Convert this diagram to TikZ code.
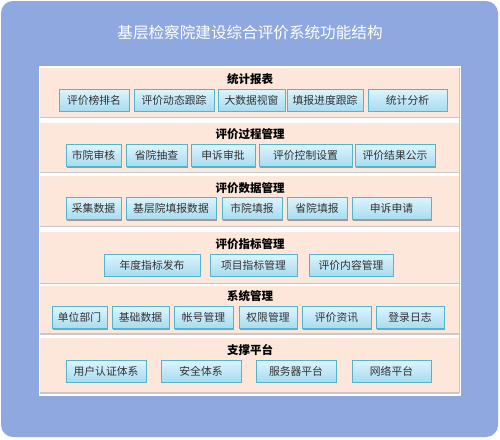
\documentclass[tikz,border=0pt]{standalone}
\usepackage{fontspec}
\setmainfont{Noto Sans CJK SC}
\usetikzlibrary{shadows}
\definecolor{outerblue}{RGB}{143,169,224}
\definecolor{peach}{RGB}{252,231,218}
\definecolor{btntop}{RGB}{222,244,252}
\definecolor{btnbot}{RGB}{166,220,240}
\definecolor{btnborder}{RGB}{84,180,204}
\definecolor{btntext}{RGB}{50,50,50}
\definecolor{sepgray}{RGB}{200,200,200}
\tikzset{
  btn/.style={draw=btnborder, line width=0.9pt, top color=btntop, bottom color=btnbot,
    minimum height=22pt, inner sep=0pt, text=btntext, font=\fontsize{10.8}{12}\selectfont,
    drop shadow={shadow xshift=1pt, shadow yshift=-1.2pt, fill=black, opacity=0.35}},
  sectitle/.style={font=\fontsize{11.5}{13}\selectfont\bfseries, text=black, inner sep=0pt},
  section/.style={fill=peach},
  sepline/.style={draw=sepgray, line width=1.2pt}
}
\newcommand{\sect}[3]{%
  \fill[peach] (40,#1) rectangle (459,#2);
  \draw[sepline] (40,#2) -- (459,#2);
  \draw[draw=sepgray, line width=0.8pt] (459,#1) -- (459,#2);
  \node[sectitle] (#3) at (250,#1+11.5) {};
}
\begin{document}
\begin{tikzpicture}[x=1pt,y=-1pt]
\useasboundingbox (0,0) rectangle (500,439);
\fill[outerblue, rounded corners=12pt] (1,1) rectangle (498,437);
\node[text=white, font=\fontsize{15.6}{18}\selectfont, inner sep=0pt] (title) at (250,33) {基层检察院建设综合评价系统功能结构};
\fill[white] (39,66) rectangle (461,396);
% sections
\fill[peach] (40,67.5) rectangle (459,117);
\draw[sepline] (40,117.5) -- (459,117.5);
\fill[peach] (40,123) rectangle (459,172);
\draw[sepline] (40,172.5) -- (459,172.5);
\fill[peach] (40,176) rectangle (459,226);
\draw[sepline] (40,226.5) -- (459,226.5);
\fill[peach] (40,231.5) rectangle (459,283);
\draw[sepline] (40,283.5) -- (459,283.5);
\fill[peach] (40,286) rectangle (459,333.5);
\draw[sepline] (40,334) -- (459,334);
\fill[peach] (40,338) rectangle (459,392.5);
\draw[sepline] (40,393) -- (459,393);
\draw[draw=sepgray, line width=0.8pt] (459,67.5) -- (459,393);
% titles
\node[sectitle] (t1) at (250,79) {统计报表};
\node[sectitle] (t2) at (250,134) {评价过程管理};
\node[sectitle] (t3) at (250,188) {评价数据管理};
\node[sectitle] (t4) at (250,244) {评价指标管理};
\node[sectitle] (t5) at (250,296) {系统管理};
\node[sectitle] (t6) at (250,350) {支撑平台};
% section 1
\node[btn, minimum width=70pt] (a1) at (94,100) {评价榜排名};
\node[btn, minimum width=80pt] (a2) at (174,100) {评价动态跟踪};
\node[btn, minimum width=67pt] (a3) at (251.5,100) {大数据视窗};
\node[btn, minimum width=76pt] (a4) at (325,100) {填报进度跟踪};
\node[btn, minimum width=79pt] (a5) at (407.5,100) {统计分析};
% section 2
\node[btn, minimum width=55pt] (b1) at (93.5,155.5) {市院审核};
\node[btn, minimum width=61pt] (b2) at (156.5,155.5) {省院抽查};
\node[btn, minimum width=64pt] (b3) at (223,155.5) {申诉审批};
\node[btn, minimum width=93pt] (b4) at (305.5,155.5) {评价控制设置};
\node[btn, minimum width=80pt] (b5) at (395,155.5) {评价结果公示};
% section 3
\node[btn, minimum width=55pt] (c1) at (93.5,208.3) {采集数据};
\node[btn, minimum width=90pt] (c2) at (171,208.3) {基层院填报数据};
\node[btn, minimum width=60pt] (c3) at (252,208.3) {市院填报};
\node[btn, minimum width=60pt] (c4) at (317,208.3) {省院填报};
\node[btn, minimum width=79pt] (c5) at (391.5,208.3) {申诉申请};
% section 4
\node[btn, minimum width=96pt] (d1) at (152,265) {年度指标发布};
\node[btn, minimum width=87pt] (d2) at (253.5,265) {项目指标管理};
\node[btn, minimum width=84pt] (d3) at (351,265) {评价内容管理};
% section 5
\node[btn, minimum width=55pt] (e1) at (79.5,317.5) {单位部门};
\node[btn, minimum width=57pt] (e2) at (140.5,317.5) {基础数据};
\node[btn, minimum width=59pt] (e3) at (203.5,317.5) {帐号管理};
\node[btn, minimum width=58pt] (e4) at (268,317.5) {权限管理};
\node[btn, minimum width=69pt] (e5) at (336.5,317.5) {评价资讯};
\node[btn, minimum width=68pt] (e6) at (410,317.5) {登录日志};
% section 6
\node[btn, minimum width=80pt] (f1) at (106,371) {用户认证体系};
\node[btn, minimum width=80pt] (f2) at (201,371) {安全体系};
\node[btn, minimum width=80pt] (f3) at (296,371) {服务器平台};
\node[btn, minimum width=79pt] (f4) at (391.5,371) {网络平台};
\end{tikzpicture}
\end{document}
